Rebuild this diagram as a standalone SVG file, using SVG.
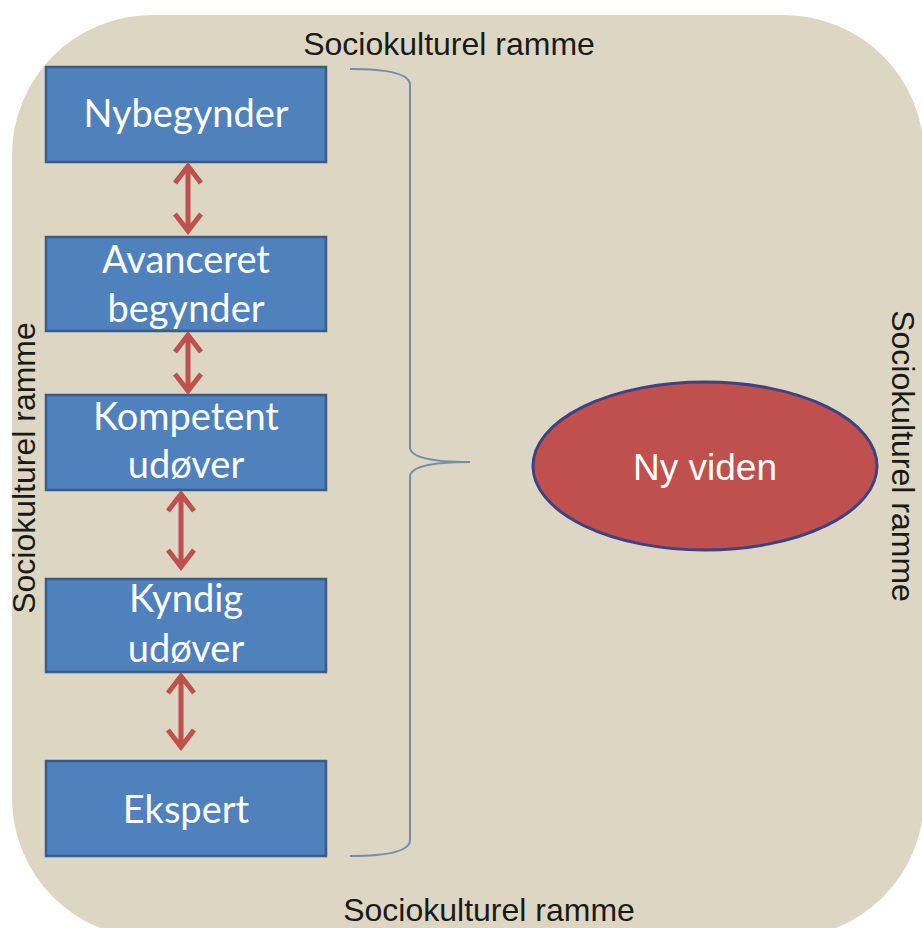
<svg xmlns="http://www.w3.org/2000/svg" width="922" height="928" viewBox="0 0 922 928">
  <style>
    .frame-label { font-family: "Liberation Sans", Arial, sans-serif; font-size: 32px; fill: #1a1a1a; text-anchor: middle; }
    .stage rect { fill: #4f81bd; stroke: #385d8a; stroke-width: 2.5; }
    .stage text { font-family: Lato, "Open Sans", sans-serif; font-size: 38px; fill: #ffffff; text-anchor: middle; }
    .link { fill: none; stroke: #c0504d; stroke-width: 5; stroke-linecap: butt; stroke-linejoin: miter; }
    .brace { fill: none; stroke: #6f8eb0; stroke-width: 2; }
  </style>

  <rect width="922" height="928" fill="#ffffff"/>

  <!-- sociocultural frame -->
  <g id="frame">
    <rect x="12" y="15" width="912" height="923" rx="140" ry="140" fill="#ddd6c2"/>
    <text class="frame-label" x="449" y="55">Sociokulturel ramme</text>
    <text class="frame-label" x="489" y="921">Sociokulturel ramme</text>
    <text class="frame-label" transform="translate(35,468) rotate(-90)">Sociokulturel ramme</text>
    <text class="frame-label" transform="translate(892,456) rotate(90)">Sociokulturel ramme</text>
  </g>

  <!-- stages of competence -->
  <g id="nybegynder" class="stage">
    <rect x="46" y="67" width="280" height="95"/>
    <text x="186" y="127">Nybegynder</text>
  </g>
  <g id="avanceret" class="stage">
    <rect x="46" y="237" width="280" height="94"/>
    <text x="186" y="273">Avanceret</text>
    <text x="186" y="322">begynder</text>
  </g>
  <g id="kompetent" class="stage">
    <rect x="46" y="395" width="280" height="95"/>
    <text x="186" y="430">Kompetent</text>
    <text x="186" y="478">udøver</text>
  </g>
  <g id="kyndig" class="stage">
    <rect x="46" y="579" width="280" height="93"/>
    <text x="186" y="612">Kyndig</text>
    <text x="186" y="662">udøver</text>
  </g>
  <g id="ekspert" class="stage">
    <rect x="46" y="761" width="280" height="95"/>
    <text x="186" y="823">Ekspert</text>
  </g>

  <!-- new knowledge -->
  <g id="ny-viden">
    <ellipse cx="705" cy="466" rx="172" ry="84" fill="#c0504d" stroke="#3d4284" stroke-width="3"/>
    <text x="705" y="480" font-family="'Liberation Sans', Arial, sans-serif" font-size="37" fill="#ffffff" text-anchor="middle">Ny viden</text>
  </g>

  <!-- connectors -->
  <g id="connectors">
    <path class="link" d="M188,166 V231 M175,183 L188,166 L201,183 M175,214 L188,231 L201,214"/>
    <path class="link" d="M188,335 V391 M175,352 L188,335 L201,352 M175,374 L188,391 L201,374"/>
    <path class="link" d="M181,494 V567 M168,511 L181,494 L194,511 M168,550 L181,567 L194,550"/>
    <path class="link" d="M181,676 V747 M168,693 L181,676 L194,693 M168,730 L181,747 L194,730"/>
    <path class="brace" d="M350,69 Q410,69 410,85 L410,447 Q410,462 470,462 Q410,462 410,477 L410,840 Q410,856 350,856"/>
  </g>
</svg>
